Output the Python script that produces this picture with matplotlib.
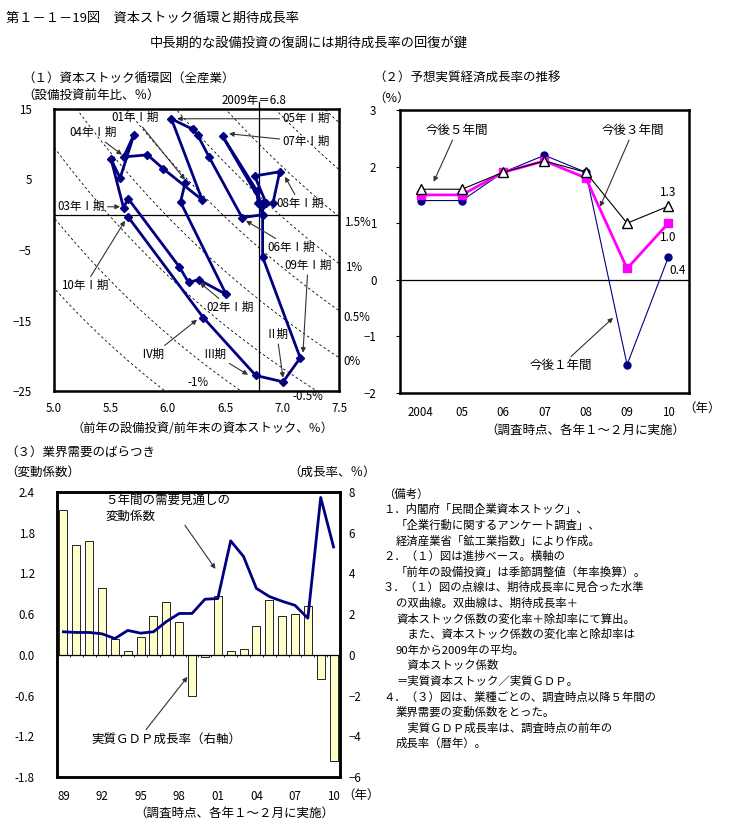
import matplotlib.pyplot as plt
import numpy as np

plt.rcParams['font.family'] = ['Noto Sans CJK JP', 'DejaVu Sans']
plt.rcParams['font.size'] = 8.5

W, H = 733, 839

# (1) capital stock cycle, quarterly 2001 I - 2010 I
stock_ratio = [6.15, 6.11, 6.51,
               6.27, 6.18, 6.10, 5.65,
               5.61, 5.50, 5.58, 5.70,
               5.61, 5.82, 5.96, 6.30,
               6.03, 6.22, 6.26, 6.36,
               6.65, 6.83, 6.79, 6.78,
               6.48, 6.83, 6.86, 6.76,
               6.98, 6.92, 6.83, 6.83,
               7.16, 7.01, 6.77, 6.31,
               5.65]
invest_growth = [4.5, 1.8, -11.3,
                 -9.2, -9.6, -7.4, 2.3,
                 1.0, 7.9, 5.2, 11.3,
                 8.2, 8.5, 6.5, 2.1,
                 13.6, 12.1, 11.3, 8.2,
                 -0.4, 0.0, 1.7, 3.4,
                 11.1, 1.4, 1.7, 5.5,
                 6.1, 1.6, 1.6, -6.0,
                 -20.3, -23.7, -22.8, -14.6,
                 -0.3]
expected_growth = [-1.5, -1.0, -0.5, 0.0, 0.5, 1.0, 1.5, 2.0, 2.5]
other_rate = 5.98   # capital coefficient change + retirement rate
ratio_2009 = 6.8

# (2) expected real growth
survey_years = [2004, 2005, 2006, 2007, 2008, 2009, 2010]
year_ticks = ['2004', '05', '06', '07', '08', '09', '10']
next_1y = [1.4, 1.4, 1.9, 2.2, 1.9, -1.5, 0.4]
next_3y = [1.5, 1.5, 1.9, 2.1, 1.8, 0.2, 1.0]
next_5y = [1.6, 1.6, 1.9, 2.1, 1.9, 1.0, 1.3]

# (3) dispersion of industry demand
years3 = list(range(1989, 2011))
cv = [0.34, 0.33, 0.33, 0.31, 0.24, 0.36, 0.32, 0.34, 0.49, 0.61, 0.61,
      0.82, 0.83, 1.68, 1.45, 0.98, 0.86, 0.79, 0.73, 0.54, 2.32, 1.59]
gdp = [7.1, 5.4, 5.6, 3.3, 0.8, 0.2, 0.9, 1.9, 2.6, 1.6, -2.0,
       -0.1, 2.9, 0.2, 0.3, 1.4, 2.7, 1.9, 2.0, 2.4, -1.2, -5.2]


def fpos(px, py):
    return px / W, 1 - py / H


fig = plt.figure(figsize=(W / 100, H / 100), dpi=100)
fig.patch.set_facecolor('white')

arrow = dict(arrowstyle='-|>', color='#333333', lw=0.8, mutation_scale=7,
             shrinkA=0, shrinkB=0)

# titles
fig.text(*fpos(6, 18), '第１－１－19図　資本ストック循環と期待成長率', fontsize=9.5, va='center')
fig.text(*fpos(150, 43), '中長期的な設備投資の復調には期待成長率の回復が鍵', fontsize=9.5, va='center')

# ---------------- panel 1
ax1 = fig.add_axes([54 / W, 1 - 391 / H, 285 / W, 282 / H])
xs = np.linspace(4.9, 7.62, 200)
for g in expected_growth:
    c = g + other_rate
    ax1.plot(xs, 100 * (c / xs - 1), color='black', lw=0.6, ls=(0, (3, 3)))
ax1.axhline(0, color='black', lw=0.9)
ax1.plot([ratio_2009, ratio_2009], [-25, 16.0], color='black', lw=0.9, clip_on=False)
ax1.plot(stock_ratio, invest_growth, color='#000080', lw=2, marker='D', ms=4.5, zorder=5)
ax1.set_xlim(5.0, 7.5)
ax1.set_ylim(-25, 15)
ax1.set_xticks(np.arange(5.0, 7.51, 0.5))
ax1.set_xticklabels(['5.0', '5.5', '6.0', '6.5', '7.0', '7.5'])
ax1.set_yticks([15, 5, -5, -15, -25])
ax1.tick_params(length=0, labelsize=8.3)
ax1.tick_params(axis='y', pad=16)
ax1.tick_params(axis='x', pad=8)
for s in ax1.spines.values():
    s.set_linewidth(1.8)


def px1(px, py):
    return 5 + (px - 54) / 114, (215 - py) / 7.05


labels1 = [('01年Ⅰ期', (135, 118), (185, 180)),
           ('04年Ⅰ期', (93, 133), (122, 155)),
           ('03年Ⅰ期', (81, 207), (120, 207)),
           ('10年Ⅰ期', (85, 286), (125, 221)),
           ('02年Ⅰ期', (230, 308), (200, 283)),
           ('05年Ⅰ期', (306, 119), (177, 119)),
           ('07年Ⅰ期', (306, 142), (229, 134)),
           ('08年Ⅰ期', (300, 204), (285, 177)),
           ('06年Ⅰ期', (291, 248), (246, 221)),
           ('09年Ⅰ期', (308, 266), (303, 353)),
           ('Ⅱ期', (277, 335), (283, 378)),
           ('Ⅲ期', (215, 355), (248, 375)),
           ('Ⅳ期', (153, 355), (197, 320))]
for txt, tpos, target in labels1:
    ax1.annotate(txt, xy=px1(*target), xytext=px1(*tpos), ha='center', va='center',
                 fontsize=8.3, arrowprops=arrow, annotation_clip=False, zorder=6)

ax1.text(*px1(254, 101), '2009年＝6.8', ha='center', va='center', fontsize=8.3)
ax1.text(*px1(198, 383), '-1%', ha='center', va='center', fontsize=8.3)
for txt, p in [('1.5%', (357, 223)), ('1%', (354, 268)), ('0.5%', (357, 318)),
               ('0%', (352, 362)), ('-0.5%', (308, 397))]:
    ax1.text(*px1(*p), txt, ha='center', va='center', fontsize=8.3)

fig.text(*fpos(22, 78), '（１）資本ストック循環図（全産業）', fontsize=9, va='center')
fig.text(*fpos(22, 96), '（設備投資前年比、％）', fontsize=9, va='center')
fig.text(*fpos(203, 428), '（前年の設備投資/前年末の資本ストック、％）', fontsize=8.8,
         va='center', ha='center')

# ---------------- panel 2
ax2 = fig.add_axes([400 / W, 1 - 393 / H, 289 / W, 283 / H])
ax2.axhline(0, color='black', lw=0.9)
ax2.plot(survey_years, next_1y, color='#000080', lw=0.8, marker='o', ms=5, zorder=3)
ax2.plot(survey_years, next_3y, color='#FF00FF', lw=2, marker='s', ms=6,
         zorder=4)
ax2.plot(survey_years, next_5y, color='black', lw=0.8, marker='^', ms=7,
         markerfacecolor='white', markeredgecolor='black', zorder=5)
ax2.set_xlim(2003.5, 2010.5)
ax2.set_ylim(-2, 3)
ax2.set_xticks(survey_years)
ax2.set_xticklabels(year_ticks)
ax2.set_yticks([-2, -1, 0, 1, 2, 3])
ax2.tick_params(axis='x', length=0, pad=9, labelsize=8.3)
ax2.tick_params(axis='y', length=3, direction='out', pad=14, labelsize=8.3)
for s in ax2.spines.values():
    s.set_linewidth(1.8)


def px2(px, py):
    return 2004 + (px - 421) / 41.2, (280 - py) / 56.6


ax2.annotate('今後５年間', xy=px2(434, 182), xytext=px2(457, 131), ha='center', va='center',
             fontsize=9, arrowprops=arrow)
ax2.annotate('今後３年間', xy=px2(600, 207), xytext=px2(633, 131), ha='center', va='center',
             fontsize=9, arrowprops=arrow)
ax2.annotate('今後１年間', xy=px2(613, 318), xytext=px2(561, 366), ha='center', va='center',
             fontsize=9, arrowprops=arrow)
ax2.text(2010, next_5y[-1] + 0.25, '1.3', ha='center', va='center', fontsize=8.5)
ax2.text(2010, next_3y[-1] - 0.25, '1.0', ha='center', va='center', fontsize=8.5)
ax2.text(2010.22, next_1y[-1] - 0.23, '0.4', ha='center', va='center', fontsize=8.5)

fig.text(*fpos(373, 78), '（２）予想実質経済成長率の推移', fontsize=9, va='center')
fig.text(*fpos(373, 98), '（%）', fontsize=9, va='center')
fig.text(*fpos(683, 408), '（年）', fontsize=9, va='center')
fig.text(*fpos(585, 430), '（調査時点、各年１～２月に実施）', fontsize=9, va='center', ha='center')

# ---------------- panel 3
ax3 = fig.add_axes([57 / W, 1 - 777 / H, 283 / W, 285 / H])
ax3r = ax3.twinx()
ax3r.bar(years3, gdp, width=0.62, color='#FFFFCC', edgecolor='black', lw=0.6)
ax3r.axhline(0, color='black', lw=0.9)
ax3r.set_ylim(-6, 8)
ax3r.set_yticks([8, 6, 4, 2, 0, -2, -4, -6])
ax3r.tick_params(axis='y', length=0, pad=6, labelsize=8.3)
ax3.set_zorder(ax3r.get_zorder() + 1)
ax3.patch.set_visible(False)
ax3.plot(years3, cv, color='#000080', lw=2)
ax3.set_ylim(-1.8, 2.4)
ax3.set_yticks([2.4, 1.8, 1.2, 0.6, 0.0, -0.6, -1.2, -1.8])
ax3.set_yticklabels(['2.4', '1.8', '1.2', '0.6', '0.0', '-0.6', '-1.2', '-1.8'])
ax3.set_xlim(1988.5, 2010.5)
ax3.set_xticks([1989, 1992, 1995, 1998, 2001, 2004, 2007, 2010])
ax3.set_xticklabels(['89', '92', '95', '98', '01', '04', '07', '10'])
ax3.tick_params(length=0, labelsize=8.3)
ax3.tick_params(axis='y', pad=16)
ax3.tick_params(axis='x', pad=9)
ax3.vlines(np.array(years3) + 0.5, -0.03, 0, color='black', lw=0.6)
for s in list(ax3.spines.values()) + list(ax3r.spines.values()):
    s.set_linewidth(1.8)


def px3(px, py):
    return 1989 + (px - 63) / 12.86, (655 - py) / 67.9


ax3.annotate('５年間の需要見通しの\n変動係数', xy=px3(215, 569), xytext=px3(105, 508),
             ha='left', va='center', fontsize=9, linespacing=1.3,
             arrowprops=dict(arrow, relpos=(0.62, 0.0)))
ax3.annotate('実質ＧＤＰ成長率（右軸）', xy=px3(187, 677), xytext=px3(166, 739),
             ha='center', va='center', fontsize=9,
             arrowprops=dict(arrow, relpos=(0.35, 1.0)))

fig.text(*fpos(5, 452), '（３）業界需要のばらつき', fontsize=9, va='center')
fig.text(*fpos(5, 472), '（変動係数）', fontsize=9, va='center')
fig.text(*fpos(288, 472), '（成長率、％）', fontsize=9, va='center')
fig.text(*fpos(342, 795), '（年）', fontsize=9, va='center')
fig.text(*fpos(234, 813), '（調査時点、各年１～２月に実施）', fontsize=9, va='center', ha='center')

# notes
notes = [(383, '（備考）'),
         (383, '１．内閣府「民間企業資本ストック」、'),
         (396, '「企業行動に関するアンケート調査」、'),
         (396, '経済産業省「鉱工業指数」により作成。'),
         (383, '２．（１）図は進捗ベース。横軸の'),
         (396, '「前年の設備投資」は季節調整値（年率換算）。'),
         (383, '３．（１）図の点線は、期待成長率に見合った水準'),
         (396, 'の双曲線。双曲線は、期待成長率＋'),
         (396, '資本ストック係数の変化率＋除却率にて算出。'),
         (396, '　また、資本ストック係数の変化率と除却率は'),
         (396, '90年から2009年の平均。'),
         (396, '　資本ストック係数'),
         (396, '＝実質資本ストック／実質ＧＤＰ。'),
         (383, '４．（３）図は、業種ごとの、調査時点以降５年間の'),
         (396, '業界需要の変動係数をとった。'),
         (396, '　実質ＧＤＰ成長率は、調査時点の前年の'),
         (396, '成長率（暦年）。')]
for i, (x0, line) in enumerate(notes):
    fig.text(*fpos(x0, 494 + i * 15.6), line, fontsize=8.2, va='center')

fig.savefig('out.png', dpi=100)
